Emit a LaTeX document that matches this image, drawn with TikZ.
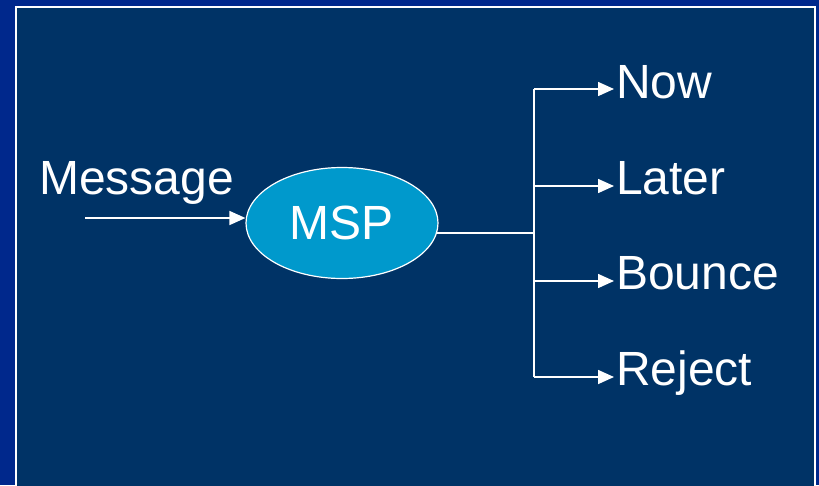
\documentclass[tikz,border=0pt]{standalone}
\usepackage{fontspec}
\setmainfont{Liberation Sans}
\usetikzlibrary{positioning, arrows.meta, decorations.markings, shapes.geometric}

\definecolor{outerblue}{RGB}{0,40,140}
\definecolor{slidenavy}{RGB}{0,51,102}
\definecolor{mspblue}{RGB}{0,153,204}

\begin{document}
\begin{tikzpicture}[%
		x=1pt, y=-1pt,
		process/.style={
			ellipse,
			minimum width=192pt,
			minimum height=111pt,
			inner sep=0pt,
			fill=mspblue,
			draw=white,
			line width=1.2pt,
			text=white,
			font=\fontsize{48}{52}\selectfont
		},
		outcome/.style={
			anchor=base west,
			inner sep=0pt,
			text=white,
			font=\fontsize{48}{52}\selectfont
		},
		flowline/.style={
			white,
			line width=1.6pt
		},
		flowarrow/.style={
			white,
			line width=1.6pt,
			-{Triangle[length=16pt,width=14pt]}
		}]

		\useasboundingbox (0,0) rectangle (819,485);
		\fill[outerblue] (0,0) rectangle (819,485);
		\fill[slidenavy] (16,7) rectangle (815,490);
		\draw[white, line width=2pt] (16,7) rectangle (815,490);

		% NODES

		\node[process] (msp) at (342,223) {MSP};
		\node[outcome] (message) at (39,194) {Message};
		\coordinate (msgstart) at (85,218);

		\node[outcome] (now) at (616,98) {Now};
		\node[outcome] (later) at (616,194) {Later};
		\node[outcome] (bounce) at (616,289) {Bounce};
		\node[outcome] (reject) at (616,385) {Reject};

		\coordinate (mspout) at (437,233);
		\coordinate (split) at (534,233);

		% LINES

		\draw[flowarrow] (msgstart) -- (msp.west |- msgstart);
		\draw[flowline] (mspout) -- (split);
		\draw[flowline] (split |- 0,89) -- (split |- 0,377);
		\draw[flowarrow] (split |- 0,89) -- (614,89);
		\draw[flowarrow] (split |- 0,186) -- (614,186);
		\draw[flowarrow] (split |- 0,281) -- (614,281);
		\draw[flowarrow] (split |- 0,377) -- (614,377);
\end{tikzpicture}
\end{document}
